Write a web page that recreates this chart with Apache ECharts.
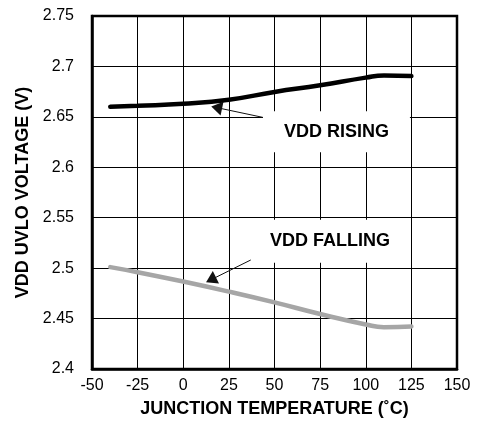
<!DOCTYPE html>
<html>
<head>
<meta charset="utf-8">
<script src="https://cdn.jsdelivr.net/npm/echarts@6/dist/echarts.min.js"></script>
<style>html,body{margin:0;padding:0;background:#fff;}#c{width:479px;height:430px;}</style>
</head>
<body>
<div id="c"></div>
<script>
const temps = [-40, -25, 0, 25, 50, 75, 100, 110, 125];
const vddRising = [2.660, 2.661, 2.663, 2.667, 2.6747, 2.6813, 2.6889, 2.6911, 2.6904];
const vddFalling = [2.501, 2.496, 2.4867, 2.4767, 2.466, 2.4545, 2.4442, 2.4415, 2.4422];
const xTicks = [-50, -25, 0, 25, 50, 75, 100, 125, 150];
const yTicks = ['2.4', '2.45', '2.5', '2.55', '2.6', '2.65', '2.7', '2.75'];

const FONT = 'Liberation Sans, Arial, Helvetica, sans-serif';
const chart = echarts.init(document.getElementById('c'), null, {renderer: 'canvas'});

function pts(xs, ys) { return xs.map((x, i) => [x, ys[i]]); }

const arrowStyle = {
  silent: true, animation: false,
  symbol: ['none', 'triangle'], symbolSize: [14, 11],
  lineStyle: {color: '#111', width: 1, type: 'solid'},
  itemStyle: {color: '#000'},
  label: {show: false}, emphasis: {disabled: true}
};

chart.setOption({
  animation: false,
  backgroundColor: '#fff',
  grid: {left: 92, right: 22, top: 16, bottom: 61, show: true, borderColor: '#000', borderWidth: 2.5, backgroundColor: 'transparent'},
  xAxis: {
    type: 'value', min: -50, max: 150, interval: 25,
    name: 'JUNCTION TEMPERATURE (˚C)', nameLocation: 'middle', nameGap: 31,
    nameTextStyle: {fontFamily: FONT, fontWeight: 'bold', fontSize: 18, color: '#000'},
    axisLine: {show: true, onZero: false, lineStyle: {color: '#000', width: 2.5}},
    axisTick: {show: false},
    axisLabel: {fontFamily: FONT, fontSize: 16, color: '#000', margin: 9,
      formatter: v => { const i = xTicks.indexOf(Math.round(v)); return i >= 0 ? String(xTicks[i]) : ''; }},
    splitLine: {show: true, lineStyle: {color: '#000', width: 1}}
  },
  yAxis: {
    type: 'value', min: 2.4, max: 2.75, interval: 0.05,
    name: 'VDD UVLO VOLTAGE (V)', nameLocation: 'middle', nameGap: 59, nameRotate: 90,
    nameTextStyle: {fontFamily: FONT, fontWeight: 'bold', fontSize: 18, color: '#000'},
    axisLine: {show: true, onZero: false, lineStyle: {color: '#000', width: 2.5}},
    axisTick: {show: false},
    axisLabel: {fontFamily: FONT, fontSize: 16, color: '#000', margin: 18,
      formatter: v => { const i = Math.round((v - 2.4) / 0.05); return yTicks[i] !== undefined ? yTicks[i] : ''; }},
    splitLine: {show: true, lineStyle: {color: '#000', width: 1}}
  },
  series: [
    {
      type: 'line', name: 'VDD RISING', data: pts(temps, vddRising), smooth: true, symbol: 'none',
      lineStyle: {color: '#000', width: 4.5, cap: 'round'}, z: 5,
      markArea: {
        silent: true,
        itemStyle: {color: '#fff', opacity: 1},
        label: {show: true, position: 'inside', formatter: 'VDD RISING', fontFamily: FONT, fontWeight: 'bold', fontSize: 18, color: '#000'},
        emphasis: {disabled: true},
        data: [[{xAxis: 43.7, yAxis: 2.6555}, {xAxis: 124.2, yAxis: 2.6148}]]
      },
      markLine: Object.assign({}, arrowStyle, {
        data: [[{coord: [43.6, 2.6495]}, {coord: [18.3, 2.6592]}]]
      })
    },
    {
      type: 'line', name: 'VDD FALLING', data: pts(temps, vddFalling), smooth: true, symbol: 'none',
      lineStyle: {color: '#a6a6a6', width: 4.5, cap: 'round'}, z: 5,
      markArea: {
        silent: true,
        itemStyle: {color: '#fff', opacity: 1},
        label: {show: true, position: 'inside', formatter: 'VDD FALLING', fontFamily: FONT, fontWeight: 'bold', fontSize: 18, color: '#000'},
        emphasis: {disabled: true},
        data: [[{xAxis: 36.6, yAxis: 2.548}, {xAxis: 124.2, yAxis: 2.5054}]]
      },
      markLine: Object.assign({}, arrowStyle, {
        data: [[{coord: [37, 2.5081]}, {coord: [15.2, 2.4885]}]]
      })
    }
  ]
});
</script>
</body>
</html>
